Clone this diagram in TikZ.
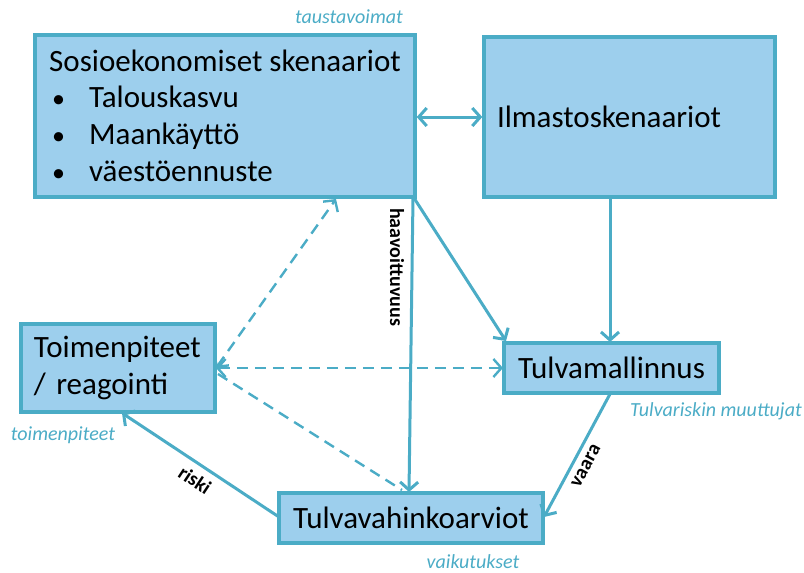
\documentclass[tikz,border=0pt]{standalone}
\usepackage{fontspec}
\setmainfont{Carlito}
\usetikzlibrary{arrows.meta}
\definecolor{aqua}{RGB}{75,172,198}
\definecolor{boxfill}{RGB}{157,207,237}
\tikzset{
  box/.style={draw=aqua, fill=boxfill, line width=3.4pt, rectangle, inner sep=0pt,
    font=\fontsize{31}{37}\selectfont, text=black},
  conn/.style={draw=aqua, line width=3pt, -{Straight Barb[length=8pt,width=18pt,line width=3pt]}},
  dconn/.style={draw=aqua, line width=2.4pt, dash pattern=on 11pt off 7pt},
  bothtip/.style={{Straight Barb[length=8pt,width=18pt,line width=2.4pt]}-{Straight Barb[length=8pt,width=18pt,line width=2.4pt]}},
  lab/.style={font=\fontsize{20}{24}\selectfont\itshape, text=aqua, inner sep=0pt},
  blab/.style={font=\fontsize{20}{24}\selectfont\bfseries, text=black, inner sep=0pt},
}
\newcommand{\blt}{\hspace*{3pt}{\fontsize{26}{37}\selectfont\textbullet}\hspace{24pt}}
\begin{document}
\begin{tikzpicture}[x=1pt,y=-1pt]
\useasboundingbox (0,0) rectangle (804,573);
% boxes
\node[box, minimum width=380pt, minimum height=162pt, align=left] (socio) at (225,116)
  {Sosioekonomiset skenaariot\\[-1pt]
   \blt Talouskasvu\\
   \blt Maankäyttö\\
   \blt väestöennuste};
\node[box, minimum width=291pt, minimum height=160pt, text width=265pt, align=left] (ilma) at (629.5,117)
  {\raisebox{-9pt}{Ilmastoskenaariot}};
\node[box, minimum width=194pt, minimum height=88pt, text width=168pt, align=left] (toim) at (118,368)
  {Toimenpiteet\\/ reagointi};
\node[box, minimum width=215pt, minimum height=50pt, align=center] (malli) at (611.5,368)
  {Tulvamallinnus};
\node[box, minimum width=264pt, minimum height=50pt, align=center] (vahinko) at (411,518)
  {Tulvavahinkoarviot};
% italic labels
\node[lab] (taus) at (349,17) {taustavoimat};
\node[lab, anchor=east] (muut) at (802,411) {Tulvariskin muuttujat};
\node[lab] (toimlab) at (63,435) {toimenpiteet};
\node[lab] (vaik) at (473,562) {vaikutukset};
% coordinates
\coordinate (sR) at (socio.east |- 0,117);
\coordinate (iL) at (ilma.west |- 0,117);
\coordinate (iB) at (610,198);
\coordinate (mT) at (610,342);
\coordinate (sC) at (414,198);
\coordinate (mTL) at (506,341);
\coordinate (sV) at (413,198);
\coordinate (vT) at (409,492);
\coordinate (tR) at (216,368);
\coordinate (sB) at (336,199);
\coordinate (mL) at (503,368);
\coordinate (tR2) at (218,374);
\coordinate (vT2) at (402,490);
\coordinate (vL) at (279,517);
\coordinate (tB) at (122,413);
\coordinate (mB) at (610,394);
\coordinate (vR) at (544,517);
% solid connectors
\draw[draw=aqua, line width=3pt, {Straight Barb[length=8pt,width=18pt,line width=3pt]}-{Straight Barb[length=8pt,width=18pt,line width=3pt]}] (sR) -- (iL);
\draw[conn] (iB) -- (mT);
\draw[conn] (sC) -- (mTL);
\draw[conn] (sV) -- (vT);
\draw[conn] (vL) -- (tB);
\draw[conn] (mB) -- (vR);
% dashed connectors
\draw[dconn, bothtip] (tR) -- (sB);
\draw[dconn, bothtip] (tR) -- (mL);
\draw[dconn] (tR2) -- (vT2);
% bold labels
\node[blab, rotate=-90] (haav) at (397,267) {haavoittuvuus};
\node[blab, rotate=-33.5] (riski) at (195,480) {riski};
\node[blab, rotate=61.6] (vaara) at (586,466) {vaara};
\end{tikzpicture}
\end{document}
